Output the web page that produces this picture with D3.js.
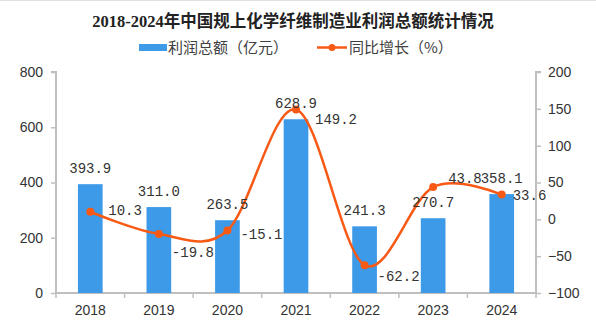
<!DOCTYPE html>
<html><head><meta charset="utf-8">
<script src="https://cdn.jsdelivr.net/npm/d3@7"></script>
<style>
html,body{margin:0;padding:0;background:#fff;}
svg{display:block;}
</style></head>
<body>
<svg id="chart" width="596" height="325"></svg>
<script>
const years = ["2018","2019","2020","2021","2022","2023","2024"];
const profit = [393.9, 311.0, 263.5, 628.9, 241.3, 270.7, 358.1];
const growth = [10.3, -19.8, -15.1, 149.2, -62.2, 43.8, 33.6];
const leftTicks = [0, 200, 400, 600, 800];
const rightTicks = [-100, -50, 0, 50, 100, 150, 200];
const titleText = "2018-2024年中国规上化学纤维制造业利润总额统计情况";
const legendBar = "利润总额（亿元）";
const legendLine = "同比增长（%）";

// label nudges for growth labels (px offsets from point), chosen to mimic the reference layout
const growthLabelDx = [18, 13, 13, 19, 13, 15, 11];
const growthLabelDy = [3, 23, 9, 15, 16, -4, 5];

const svg = d3.select("#chart");
const W = 596, H = 325;
const plotL = 56, plotR = 536, plotT = 72, plotB = 293;

const BLUE = "#3d9ae8", ORANGE = "#f85a16", AXIS = "#bfbfbf", TXT = "#333";

svg.append("line").attr("x1",0).attr("x2",W).attr("y1",0.5).attr("y2",0.5).attr("stroke","#e0e0e0");

const x = d3.scaleBand().domain(years).range([plotL, plotR]).paddingInner(0.64).paddingOuter(0.32);
const xc = d => x(d) + x.bandwidth()/2;
const xb = d3.scaleBand().domain(years).range([plotL, plotR]);
const yL = d3.scaleLinear().domain([0, 800]).range([plotB, plotT]);
const yR = d3.scaleLinear().domain([-100, 200]).range([plotB, plotT]);

// Title
svg.append("text").attr("x", 293).attr("y", 27).attr("text-anchor","middle")
  .attr("font-family","'Liberation Serif', 'Noto Sans CJK SC', serif").attr("font-weight","bold")
  .attr("font-size", 16.5).attr("fill","#222").text(titleText);

// Legend
const lg = svg.append("g").attr("font-family","'Noto Sans CJK SC', sans-serif").attr("font-size",15).attr("fill","#404040");
lg.append("rect").attr("x",139).attr("y",44).attr("width",28).attr("height",7).attr("fill",BLUE);
lg.append("text").attr("x",168).attr("y",53).text(legendBar);
lg.append("line").attr("x1",317).attr("x2",347).attr("y1",47.5).attr("y2",47.5).attr("stroke",ORANGE).attr("stroke-width",2.5);
lg.append("circle").attr("cx",332).attr("cy",47.5).attr("r",3.5).attr("fill",ORANGE);
lg.append("text").attr("x",349).attr("y",53).text(legendLine);

// Axes
const axL = svg.append("g").attr("transform",`translate(${plotL},0)`)
  .call(d3.axisLeft(yL).tickValues(leftTicks).tickSize(5).tickPadding(8));
const axR = svg.append("g").attr("transform",`translate(${plotR},0)`)
  .call(d3.axisRight(yR).tickValues(rightTicks).tickSize(5).tickPadding(7));
const axB = svg.append("g").attr("transform",`translate(0,${plotB})`)
  .call(d3.axisBottom(xb).tickSize(0).tickPadding(12));
// category boundary ticks
axB.selectAll(".bound").data(d3.range(years.length+1)).enter().append("line")
  .attr("x1", i => plotL + i*xb.step()).attr("x2", i => plotL + i*xb.step())
  .attr("y1",0).attr("y2",5).attr("stroke",AXIS).attr("stroke-width",1.5);
[axL, axR, axB].forEach(a => {
  a.select(".domain").attr("stroke",AXIS).attr("stroke-width",2);
  a.selectAll(".tick line").attr("stroke",AXIS).attr("stroke-width",1.5);
  a.selectAll(".tick text").attr("fill",TXT).attr("font-family","'Liberation Sans', Arial, sans-serif").attr("font-size",14);
});
axL.select(".domain").attr("d", `M-5,${plotT}H0V${plotB}`);
axR.select(".domain").attr("d", `M5,${plotT}H0V${plotB}`);
axB.select(".domain").attr("d", `M${plotL},0H${plotR}`);

// Bars
svg.append("g").selectAll("rect").data(profit).enter().append("rect")
  .attr("x",(d,i)=>x(years[i])).attr("width",x.bandwidth())
  .attr("y",d=>yL(d)).attr("height",d=>plotB - yL(d)).attr("fill",BLUE);

// Line
const line = d3.line().x((d,i)=>xc(years[i])).y(d=>yR(d)).curve(d3.curveCardinal.tension(0));
svg.append("path").datum(growth).attr("d",line).attr("fill","none").attr("stroke",ORANGE).attr("stroke-width",2.5);
svg.append("g").selectAll("circle").data(growth).enter().append("circle")
  .attr("cx",(d,i)=>xc(years[i])).attr("cy",d=>yR(d)).attr("r",4).attr("fill",ORANGE);

// Bar labels
svg.append("g").selectAll("text").data(profit).enter().append("text")
  .attr("x",(d,i)=>xc(years[i])).attr("y",d=>yL(d)-11).attr("text-anchor","middle")
  .attr("font-family","'Liberation Mono', monospace").attr("font-size",14).attr("fill",TXT)
  .text(d=>d.toFixed(1));

// Growth labels
svg.append("g").selectAll("text").data(growth).enter().append("text")
  .attr("x",(d,i)=>xc(years[i]) + growthLabelDx[i]).attr("y",(d,i)=>yR(d)+growthLabelDy[i])
  .attr("font-family","'Liberation Mono', monospace").attr("font-size",14).attr("fill",TXT)
  .text(d=>d.toFixed(1));
</script>
</body></html>
